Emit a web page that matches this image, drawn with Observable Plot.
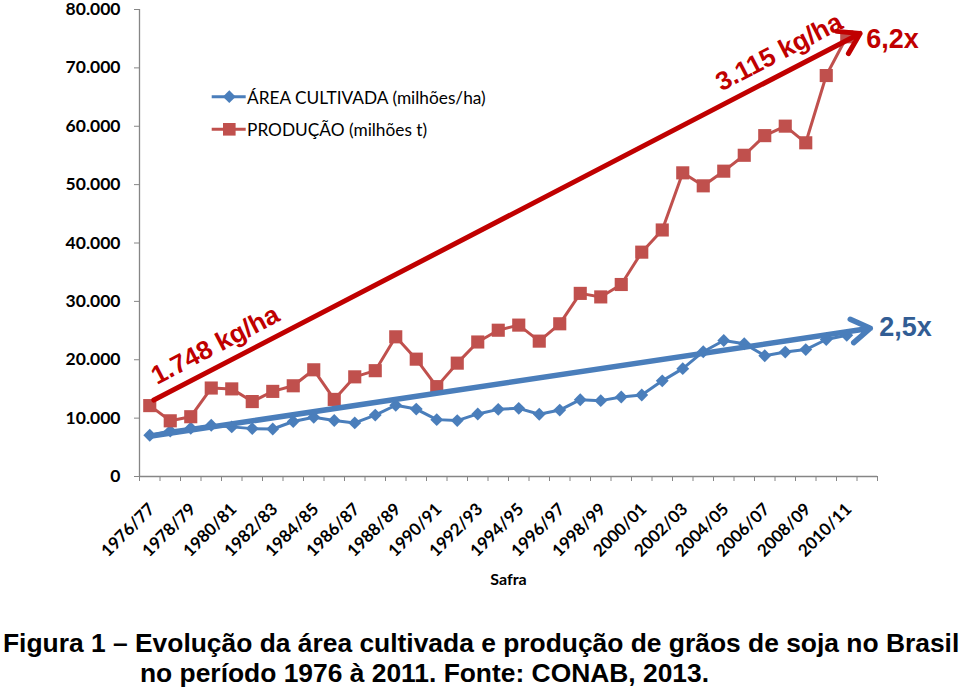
<!DOCTYPE html>
<html><head><meta charset="utf-8">
<script src="https://cdn.jsdelivr.net/npm/d3@7"></script>
<script src="https://cdn.jsdelivr.net/npm/@observablehq/plot@0.6"></script>
<style>
body{margin:0;background:#fff;}
#wrap{position:relative;width:960px;height:689px;overflow:hidden;background:#fff;}
.leg{position:absolute;font-family:Lato,sans-serif;font-size:17.3px;line-height:20px;color:#000;white-space:nowrap}
.cap{position:absolute;font-family:"Liberation Sans",Arial,sans-serif;font-weight:bold;font-size:26.4px;line-height:30px;white-space:nowrap;color:#000}
</style></head><body>
<div id="wrap"></div>
<script>
// ---- data (CONAB soja) ----
const safras = ["1976/77","1977/78","1978/79","1979/80","1980/81","1981/82","1982/83","1983/84","1984/85","1985/86",
  "1986/87","1987/88","1988/89","1989/90","1990/91","1991/92","1992/93","1993/94","1994/95","1995/96",
  "1996/97","1997/98","1998/99","1999/00","2000/01","2001/02","2002/03","2003/04","2004/05","2005/06",
  "2006/07","2007/08","2008/09","2009/10","2010/11"];
const areaCultivada = [7070,7782,8256,8774,8501,8202,8137,9421,10153,9589,
  9179,10519,12203,11551,9743,9582,10717,11502,11679,10663,
  11381,13158,12995,13623,13970,16386,18475,21376,23301,22749,
  20687,21313,21743,23468,24181];
const producao = [12145,9541,10240,15156,15007,12836,14582,15541,18278,13207,
  17071,18127,23929,20101,15395,19419,23042,25059,25934,23190,
  26160,31370,30765,32890,38432,42230,52018,49793,52305,55027,
  58392,60018,57166,68688,75324];
const yTicks = [0,10000,20000,30000,40000,50000,60000,70000,80000];
const seriesNames = ["ÁREA CULTIVADA (milhões/ha)", "PRODUÇÃO (milhões t)"];
// trend arrows (start/end in data units: safra index, value)
const setaArea = [{x1:0, y1:6900, x2:35.15, y2:25400}];
const setaProducao = [{x1:0.2, y1:13100, x2:34.65, y2:75900}];
const rotulosProducao = [
  {texto:"1.748 kg/ha", x:3.2, y:22500},
  {texto:"3.115 kg/ha", x:30.7, y:72700}
];
const rotuloFatorProd = [{texto:"6,2x", x:36.23, y:74900}];
const rotuloFatorArea = [{texto:"2,5x", x:36.87, y:25600}];
const xTitle = "Safra";
const caption1 = "Figura 1 – Evolução da área cultivada e produção de grãos de soja no Brasil";
const caption2 = "no período 1976 à 2011. Fonte: CONAB, 2013.";

// ---- build ----
const n = safras.length;
const rows = safras.map((s, i) => ({i, s, area: areaCultivada[i], prod: producao[i]}));
const ptFmt = d3.formatLocale({decimal: ",", thousands: ".", grouping: [3], currency: ["", ""]}).format(",d");
const blue = "#4a7ebb", red = "#c0504d", darkRed = "#c00000", darkBlue = "#325d94", gray = "#868686";

const chart = Plot.plot({
  width: 960, height: 600,
  marginLeft: 139, marginRight: 83, marginTop: 9, marginBottom: 124,
  style: {fontFamily: "Lato, sans-serif", background: "white", overflow: "visible"},
  x: {type: "linear", domain: [-0.5, n + 0.5]},
  y: {domain: [0, 80000]},
  marks: [
    Plot.ruleY([0], {stroke: gray, strokeWidth: 1.3}),
    Plot.ruleX([-0.5], {stroke: gray, strokeWidth: 1.3}),
    Plot.axisY({ticks: yTicks, tickSize: 5, tickPadding: 14, tickFormat: ptFmt, fontSize: 17.5, fontWeight: "bold",
      stroke: gray, fill: "black", label: null}),
    Plot.axisX({ticks: d3.range(-0.5, n + 1, 1), tickSize: 5, tickFormat: () => "", stroke: gray, label: null}),
    Plot.axisX({ticks: d3.range(0, n, 2), tickFormat: i => safras[i], tickRotate: -45, tickSize: 0, tickPadding: 30,
      dx: 2, fontSize: 17, fontWeight: "bold", fill: "black", label: null}),
    Plot.text([xTitle], {frameAnchor: "bottom", dy: 108, fontSize: 16, fontWeight: "bold", fill: "black"}),
    Plot.line(rows, {x: "i", y: "area", stroke: blue, strokeWidth: 3}),
    Plot.dot(rows, {x: "i", y: "area", symbol: "diamond2", r: 5.8, fill: blue, stroke: "none"}),
    Plot.line(rows, {x: "i", y: "prod", stroke: red, strokeWidth: 3}),
    Plot.dot(rows, {x: "i", y: "prod", symbol: "square", r: 7.4, fill: red, stroke: "none"}),
    Plot.arrow(setaArea, {x1: "x1", y1: "y1", x2: "x2", y2: "y2", stroke: blue, strokeWidth: 5.5, headLength: 6, headAngle: 65}),
    Plot.arrow(setaProducao, {x1: "x1", y1: "y1", x2: "x2", y2: "y2", stroke: darkRed, strokeWidth: 5, headLength: 7, headAngle: 65}),
    Plot.text(rotulosProducao, {x: "x", y: "y", text: "texto", rotate: -27.5, fontSize: 26, fontWeight: "bold",
      fontFamily: "Liberation Sans, Arial, sans-serif", fill: darkRed}),
    Plot.text(rotuloFatorProd, {x: "x", y: "y", text: "texto", fontSize: 27, fontWeight: "bold",
      fontFamily: "Liberation Sans, Arial, sans-serif", fill: darkRed}),
    Plot.text(rotuloFatorArea, {x: "x", y: "y", text: "texto", fontSize: 27, fontWeight: "bold",
      fontFamily: "Liberation Sans, Arial, sans-serif", fill: darkBlue})
  ]
});
const wrap = document.getElementById("wrap");
chart.style.position = "absolute"; chart.style.left = "0"; chart.style.top = "0";
wrap.appendChild(chart);

// legend
const legSvg = document.createElementNS("http://www.w3.org/2000/svg", "svg");
legSvg.setAttribute("width", 50); legSvg.setAttribute("height", 70);
legSvg.style.position = "absolute"; legSvg.style.left = "205px"; legSvg.style.top = "80px";
legSvg.innerHTML =
  `<line x1="6.7" x2="40.7" y1="16.7" y2="16.7" stroke="${blue}" stroke-width="3"/>` +
  `<path d="M24.3,10.3L30.7,16.7L24.3,23.1L17.9,16.7Z" fill="${blue}"/>` +
  `<line x1="6.7" x2="40.7" y1="49.3" y2="49.3" stroke="${red}" stroke-width="3"/>` +
  `<rect x="18" y="43" width="12.6" height="12.6" fill="${red}"/>`;
wrap.appendChild(legSvg);
const l1 = document.createElement("div"); l1.className = "leg"; l1.style.left = "247px"; l1.style.top = "88px"; l1.textContent = seriesNames[0];
const l2 = document.createElement("div"); l2.className = "leg"; l2.style.left = "247px"; l2.style.top = "120px"; l2.textContent = seriesNames[1];
wrap.appendChild(l1); wrap.appendChild(l2);

// caption
const c1 = document.createElement("div"); c1.className = "cap"; c1.style.left = "3px"; c1.style.top = "628px"; c1.textContent = caption1;
const c2 = document.createElement("div"); c2.className = "cap"; c2.style.left = "140px"; c2.style.top = "658px"; c2.textContent = caption2;
wrap.appendChild(c1); wrap.appendChild(c2);
</script>
</body></html>
